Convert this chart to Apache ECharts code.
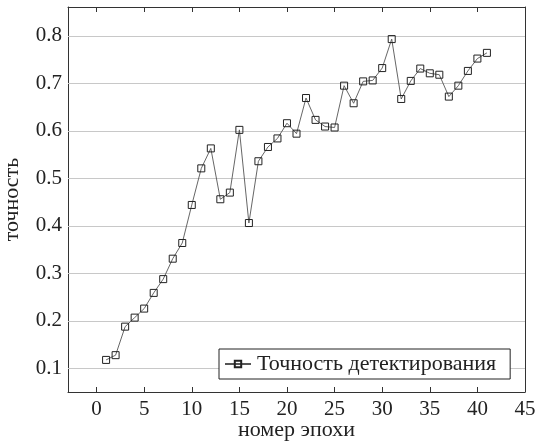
<!DOCTYPE html>
<html>
<head>
<meta charset="utf-8">
<script src="https://cdn.jsdelivr.net/npm/echarts@6/dist/echarts.min.js"></script>
<style>
  html, body { margin: 0; padding: 0; background: #fff; }
  #chart { width: 535px; height: 443px; }
</style>
</head>
<body>
<div id="chart"></div>
<script>
// Detection accuracy per training epoch
const epochs = [1, 2, 3, 4, 5, 6, 7, 8, 9, 10, 11, 12, 13, 14, 15, 16, 17, 18, 19, 20,
  21, 22, 23, 24, 25, 26, 27, 28, 29, 30, 31, 32, 33, 34, 35, 36, 37, 38, 39, 40, 41];
const accuracy = [0.118, 0.128, 0.188, 0.207, 0.226, 0.259, 0.288, 0.331, 0.364, 0.444,
  0.521, 0.563, 0.456, 0.470, 0.602, 0.406, 0.536, 0.566, 0.584, 0.616,
  0.594, 0.669, 0.623, 0.609, 0.607, 0.695, 0.658, 0.704, 0.706, 0.732,
  0.793, 0.667, 0.705, 0.731, 0.721, 0.718, 0.672, 0.695, 0.726, 0.752, 0.764];
const xTicks = [0, 5, 10, 15, 20, 25, 30, 35, 40, 45];
const yTicks = [0.1, 0.2, 0.3, 0.4, 0.5, 0.6, 0.7, 0.8];

const seriesName = 'Точность детектирования';
const xTitle = 'номер эпохи';
const yTitle = 'точность';

// axis limits widened by 10% of the data range on both ends
function padded(values) {
  const lo = Math.min(...values), hi = Math.max(...values);
  const pad = (hi - lo) * 0.1;
  return [lo - pad, hi + pad];
}
const [xMin, xMax] = padded(epochs);
const [yMin, yMax] = padded(accuracy);

const FONT = '"Liberation Serif", "Times New Roman", serif';
const ink = '#222';
const frame = { show: true, onZero: false, lineStyle: { color: '#333', width: 1 } };
const tickStyle = (values) => ({
  show: true, inside: true, length: 5, customValues: values,
  lineStyle: { color: '#333', width: 1 }
});
const labelFont = { fontFamily: FONT, fontSize: 21, color: ink, fontWeight: 'normal' };

const chart = echarts.init(document.getElementById('chart'), null, { renderer: 'canvas' });

chart.setOption({
  backgroundColor: '#fff',
  animation: false,
  textStyle: { fontFamily: FONT, color: ink },
  grid: { left: 68, right: 10, top: 7, bottom: 51, containLabel: false, outerBoundsMode: 'none' },
  legend: {
    data: [seriesName],
    left: 219, top: 349,
    z: 20,
    padding: [4, 14, 4, 5],
    itemWidth: 26, itemHeight: 8, itemGap: 5,
    borderColor: '#222', borderWidth: 1,
    backgroundColor: '#fff',
    textStyle: { fontFamily: FONT, fontSize: 22, color: ink, padding: [0, 0, 0, 1] }
  },
  xAxis: [{
    type: 'value', min: xMin, max: xMax, position: 'bottom',
    name: xTitle, nameLocation: 'middle', nameGap: 27, nameMoveOverlap: false,
    nameTextStyle: { fontFamily: FONT, fontSize: 22, color: ink },
    axisLine: frame,
    axisTick: tickStyle(xTicks),
    axisLabel: Object.assign({ customValues: xTicks, margin: 7 }, labelFont),
    splitLine: { show: false }
  }, {
    type: 'value', min: xMin, max: xMax, position: 'top',
    axisLine: frame,
    axisTick: tickStyle(xTicks),
    axisLabel: { show: false },
    splitLine: { show: false }
  }],
  yAxis: [{
    type: 'value', min: yMin, max: yMax, position: 'left',
    name: yTitle, nameLocation: 'middle', nameGap: 45, nameMoveOverlap: false,
    nameTextStyle: { fontFamily: FONT, fontSize: 22, color: ink },
    axisLine: frame,
    axisTick: tickStyle(yTicks),
    axisLabel: Object.assign({ customValues: yTicks, margin: 6, formatter: v => v.toFixed(1) }, labelFont),
    splitLine: { show: false }
  }, {
    type: 'value', min: yMin, max: yMax, position: 'right',
    axisLine: frame,
    axisTick: tickStyle(yTicks),
    axisLabel: { show: false },
    splitLine: { show: false }
  }],
  series: [{
    // horizontal grid lines at the y tick values
    name: 'grid',
    type: 'line',
    data: [],
    z: 1,
    silent: true,
    markLine: {
      silent: true,
      z: 1,
      symbol: 'none',
      label: { show: false },
      lineStyle: { color: '#c8c8c8', width: 1, type: 'solid' },
      emphasis: { disabled: true },
      data: yTicks.map(v => ({ yAxis: v }))
    }
  }, {
    name: seriesName,
    type: 'line',
    z: 3,
    data: epochs.map((e, i) => [e, accuracy[i]]),
    symbol: 'rect',
    symbolSize: 7,
    showAllSymbol: true,
    lineStyle: { color: '#555', width: 0.9 },
    itemStyle: { color: 'rgba(0,0,0,0)', borderColor: '#222', borderWidth: 1 },
    emphasis: { disabled: true }
  }]
});
</script>
</body>
</html>
